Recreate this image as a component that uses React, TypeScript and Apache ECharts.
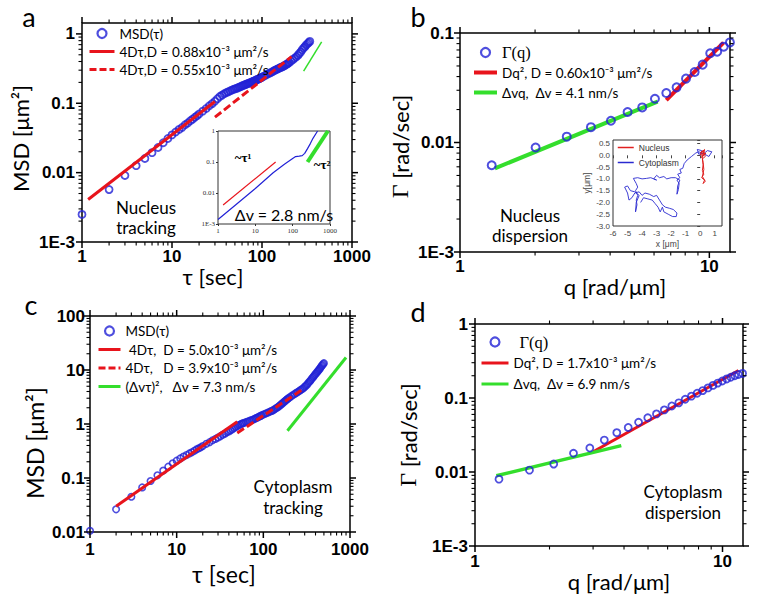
import React, { useEffect, useRef } from 'react';
import * as echarts from 'echarts';

// ---------- data ----------
// panel a: nucleus MSD
const aTau = [1,2,3,4,5,6,7,8,9,10,11,12,13,14,15,16,17,18,19,20,22,24,26,28,30,32,34,36,38,40,42,44,46,48,50,52,54,56,58,60,62,64,66,68,70,72,74,76,78,80,82,84,86,88,90,92,94,96,98,100,105,110,115,120,125,130,135,140,145,150,155,160,165,170,175,180,185,190,195,200,210,220,230,240,250,260,270,280,290,300,310,320,330,340];
const aMsd = [0.0025,0.0057,0.0091,0.0126,0.016,0.0194,0.023,0.027,0.031,0.035,0.0385,0.042,0.045,0.049,0.052,0.056,0.059,0.063,0.066,0.070,0.077,0.084,0.092,0.099,0.107,0.116,0.125,0.131,0.137,0.142,0.146,0.150,0.154,0.158,0.161,0.164,0.167,0.171,0.174,0.178,0.181,0.184,0.187,0.190,0.193,0.196,0.198,0.201,0.204,0.207,0.210,0.213,0.216,0.219,0.222,0.225,0.228,0.231,0.234,0.237,0.246,0.255,0.262,0.27,0.277,0.285,0.292,0.30,0.307,0.313,0.32,0.326,0.332,0.338,0.345,0.352,0.36,0.368,0.376,0.385,0.405,0.425,0.445,0.465,0.49,0.52,0.55,0.59,0.625,0.655,0.69,0.72,0.75,0.78];
const aFit1Tau = [1.17, 30];
const aFit1Msd = [0.0041, 0.106];
const aFit2Tau = [30, 213];
const aFit2Msd = [0.063, 0.47];
const aGreenTau = [290, 460];
const aGreenMsd = [0.29, 0.77];

// panel a inset
const inTau = [1, 3, 10, 30, 60, 100, 120, 150, 180, 210, 250, 300, 350, 465];
const inMsd = [0.0014, 0.0042, 0.014, 0.045, 0.085, 0.13, 0.15, 0.155, 0.16, 0.19, 0.27, 0.4, 0.58, 1.0];
const inRedTau = [1.37, 35];
const inRedMsd = [0.0041, 0.1];
const inGreenTau = [250, 880];
const inGreenMsd = [0.1, 1.0];

// panel b: nucleus dispersion
const bQ = [1.34,2.01,2.68,3.35,4.03,4.70,5.38,6.05,6.72,7.39,8.06,8.73,9.40,10.08,10.75,11.42,12.09];
const bGamma = [0.0062,0.0090,0.0113,0.0138,0.0158,0.019,0.0209,0.0251,0.0283,0.0319,0.0383,0.044,0.0514,0.0653,0.0675,0.075,0.082];
const bRedQ = [6.72, 11.4];
const bRedG = [0.0244, 0.0816];
const bGreenQ = [1.38, 6.2];
const bGreenG = [0.0058, 0.0236];

// panel b inset: trajectories (µm)
const cytoX = [0.0,0.1,-0.2,-0.1,0.3,0.5,0.8,0.6,0.3,-0.1,-0.3,-0.6,-0.9,-1.1,-1.2,-1.4,-1.3,-1.55,-1.4,-1.6,-1.45,-1.5,-1.6,-1.55,-1.4,-1.7,-2.0,-2.3,-2.5,-2.8,-3.0,-3.2,-3.0,-3.4,-3.7,-4.0,-4.3,-4.6,-4.4,-4.3,-4.45,-4.3,-4.4,-4.35,-4.45,-4.4,-4.2,-4.5,-4.8,-5.0,-5.2,-5.0,-4.9,-4.7,-4.5,-4.2,-4.0,-3.8,-3.5,-3.2,-3.0,-2.8,-2.6,-2.4,-2.1,-1.85,-1.6,-1.65,-1.9,-2.2,-2.5,-2.6,-2.75,-2.9,-3.1,-3.3,-3.6,-3.9,-4.1];
const cytoY = [0.0,0.2,0.25,0.05,0.1,0.2,0.15,-0.05,0.05,0.15,0.1,-0.05,-0.2,-0.35,-0.55,-0.6,-0.75,-0.8,-0.95,-1.05,-1.2,-1.45,-1.65,-1.3,-1.05,-0.95,-0.95,-1.0,-0.9,-0.95,-0.85,-1.0,-1.05,-0.95,-0.98,-1.0,-0.95,-0.98,-1.2,-1.35,-1.5,-1.7,-1.9,-2.1,-2.4,-2.0,-1.7,-1.55,-1.5,-1.3,-1.35,-1.6,-1.9,-1.8,-1.6,-1.55,-1.7,-1.6,-1.65,-1.75,-1.7,-1.9,-2.1,-2.2,-2.25,-2.3,-2.45,-2.6,-2.6,-2.5,-2.4,-2.2,-2.4,-2.2,-2.05,-1.9,-1.85,-1.8,-2.0];
const nucX = [0.0,0.15,0.05,0.3,0.2,0.4,0.1,0.25,0.35,0.15,0.2,0.15,0.25,0.1,0.3,0.2,0.35,0.15,0.25,0.2,0.1,0.3,0.0];
const nucY = [0.0,0.2,0.1,0.25,0.0,0.1,-0.1,0.15,-0.05,-0.15,-0.4,-0.65,-0.8,-0.95,-1.05,-1.2,-1.1,-0.9,-0.6,-0.3,0.05,0.2,0.1];

// panel c: cytoplasm MSD
const cTau = [1,2,3,4,5,6,7,8,9,10,11,12,13,14,15,16,17,18,19,20,22,24,26,28,30,32,34,36,38,40,42,44,46,48,50,52,54,56,58,60,63,66,69,72,75,78,81,84,87,90,93,96,100,105,110,115,120,125,130,135,140,145,150,155,160,165,170,175,180,185,190,195,200,210,220,230,240,250,260,270,280,290,300,310,320,330,340,350,360,370,380,390,400,410,420,430,440,450,460,470,480,490,500];
const cMsd = [0.0105,0.0263,0.045,0.067,0.088,0.112,0.137,0.162,0.187,0.209,0.23,0.25,0.267,0.285,0.30,0.32,0.34,0.355,0.37,0.39,0.43,0.46,0.50,0.53,0.56,0.595,0.63,0.66,0.70,0.73,0.765,0.80,0.84,0.88,0.915,0.95,0.98,1.01,1.03,1.05,1.08,1.11,1.14,1.17,1.2,1.23,1.27,1.3,1.34,1.38,1.41,1.45,1.5,1.55,1.6,1.65,1.7,1.75,1.8,1.87,1.95,2.02,2.1,2.2,2.3,2.4,2.5,2.6,2.7,2.8,2.9,3.0,3.1,3.27,3.43,3.6,3.77,3.93,4.1,4.27,4.43,4.6,4.87,5.13,5.4,5.73,6.07,6.4,6.8,7.2,7.6,8.0,8.4,8.8,9.27,9.73,10.2,10.7,11.2,11.8,12.3,12.9,13.4];
const cFit1Tau = [2, 50];
const cFit1Msd = [0.03, 1.1];
const cFit2Tau = [50, 280];
const cFit2Msd = [0.68, 4.3];
const cGreenTau = [190, 900];
const cGreenMsd = [0.75, 17];

// panel d: cytoplasm dispersion
const dQ = [1.25,1.66,2.08,2.50,2.91,3.33,3.74,4.16,4.58,4.99,5.41,5.82,6.24,6.66,7.07,7.49,7.90,8.32,8.74,9.15,9.57,9.98,10.4,10.8,11.2,11.6,12.05];
const dGamma = [0.0080,0.0106,0.0128,0.0179,0.0211,0.027,0.034,0.040,0.047,0.054,0.061,0.069,0.078,0.086,0.096,0.106,0.116,0.126,0.137,0.148,0.159,0.170,0.181,0.191,0.200,0.208,0.215];
const dRedQ = [3.0, 11.6];
const dRedG = [0.0188, 0.235];
const dGreenQ = [1.22, 3.9];
const dGreenG = [0.0089, 0.0227];

// tick positions
const xTicks1000Major = [1, 10, 100, 1000];
const xTicks1000Minor = [2,3,4,5,6,7,8,9,20,30,40,50,60,70,80,90,200,300,400,500,600,700,800,900];
const xTicks12Major = [1, 10];
const xTicks12Minor = [2,3,4,5,6,7,8,9];
const yTicks3Major = [0.001, 0.01, 0.1, 1];
const yTicks3Minor = [0.002,0.003,0.004,0.005,0.006,0.007,0.008,0.009,0.02,0.03,0.04,0.05,0.06,0.07,0.08,0.09,0.2,0.3,0.4,0.5,0.6,0.7,0.8,0.9];
const yTicksBMajor = [0.001, 0.01, 0.1];
const yTicksBMinor = [0.002,0.003,0.004,0.005,0.006,0.007,0.008,0.009,0.02,0.03,0.04,0.05,0.06,0.07,0.08,0.09];
const yTicksCMajor = [0.01, 0.1, 1, 10, 100];
const yTicksCMinor = [0.02,0.03,0.04,0.05,0.06,0.07,0.08,0.09,0.2,0.3,0.4,0.5,0.6,0.7,0.8,0.9,2,3,4,5,6,7,8,9,20,30,40,50,60,70,80,90];

// legend texts
const MSD = 'MSD(τ)';
const GQ = 'Γ(q)';
const A1 = '4Dτ,D = 0.88x10⁻³ μm²/s';
const A2 = '4Dτ,D = 0.55x10⁻³ μm²/s';
const B1 = 'Dq², D = 0.60x10⁻³ μm²/s';
const B2 = 'Δvq,  Δv = 4.1 nm/s';
const C1 = ' 4Dτ,  D = 5.0x10⁻³ μm²/s';
const C2 = '4Dτ,   D = 3.9x10⁻³ μm²/s';
const C3 = '(Δvτ)²,   Δv = 7.3 nm/s';
const D1 = 'Dq², D = 1.7x10⁻³ μm²/s';
const D2 = 'Δvq,  Δv = 6.9 nm/s';

// ---------- styling ----------
const BLUE = '#2222d6';
const RED = '#e8141c';
const GREEN = '#34de2c';
const SANS = 'Lato, "Noto Sans", sans-serif';
const BOLD = '"Liberation Sans", Arial, sans-serif';
const SERIF = '"Liberation Serif", "Times New Roman", serif';

const pairs = (xs: number[], ys: number[]) => xs.map((x, i) => [x, ys[i]]);

const decadeLabel = (v: number) => {
  const e = Math.log10(v);
  const r = Math.round(e);
  if (Math.abs(e - r) > 1e-6) return '';
  if (r === -3) return '1E-3';
  if (r < 0) return Math.pow(10, r).toFixed(-r);
  return String(Math.pow(10, r));
};

type Panel = { xr: number[]; yr: number[]; xMaj: number[]; xMin: number[]; yMaj: number[]; yMin: number[] };
const panels: Panel[] = [
  { xr: [1, 1000], yr: [0.001, 1.436], xMaj: xTicks1000Major, xMin: xTicks1000Minor, yMaj: yTicks3Major, yMin: yTicks3Minor },
  { xr: [1, 12.1], yr: [0.001, 0.1], xMaj: xTicks12Major, xMin: xTicks12Minor, yMaj: yTicksBMajor, yMin: yTicksBMinor },
  { xr: [1, 1000], yr: [0.01, 100], xMaj: xTicks1000Major, xMin: xTicks1000Minor, yMaj: yTicksCMajor, yMin: yTicksCMinor },
  { xr: [1, 12.1], yr: [0.001, 1], xMaj: xTicks12Major, xMin: xTicks12Minor, yMaj: yTicks3Major, yMin: yTicks3Minor },
];

function tickItems(p: Panel) {
  const out: number[][] = [];
  const inX = (v: number) => v >= p.xr[0] && v <= p.xr[1];
  const inY = (v: number) => v >= p.yr[0] && v <= p.yr[1];
  p.xMaj.filter(inX).forEach((v) => { out.push([v, p.yr[0], 0, 0]); out.push([v, p.yr[1], 0, 1]); });
  p.xMin.filter(inX).forEach((v) => { out.push([v, p.yr[0], 1, 0]); out.push([v, p.yr[1], 1, 1]); });
  p.yMaj.filter(inY).forEach((v) => { out.push([p.xr[0], v, 0, 2]); out.push([p.xr[1], v, 0, 3]); });
  p.yMin.filter(inY).forEach((v) => { out.push([p.xr[0], v, 1, 2]); out.push([p.xr[1], v, 1, 3]); });
  return out;
}

const tickSeries = (i: number) => ({
  type: 'custom',
  name: '_ticks' + i,
  xAxisIndex: i,
  yAxisIndex: i,
  clip: false,
  silent: true,
  z: 6,
  data: tickItems(panels[i]),
  renderItem: (_params: any, api: any) => {
    const pt = api.coord([api.value(0), api.value(1)]);
    const major = api.value(2) === 0;
    const side = api.value(3);
    const len = major ? 6 : 3.5;
    let x2 = pt[0];
    let y2 = pt[1];
    if (side === 0) y2 += len;
    else if (side === 1) y2 -= len;
    else if (side === 2) x2 -= len;
    else x2 += len;
    return {
      type: 'line',
      shape: { x1: pt[0], y1: pt[1], x2, y2 },
      style: { stroke: '#000', lineWidth: major ? 1.5 : 1.1 },
    };
  },
});

const serifRich = { g: { fontFamily: SERIF, fontSize: 24, color: '#000' } };

function mainX(i: number, name: string, nameGap: number, fontSize: number, shift: number, margin: number) {
  return {
    type: 'log', logBase: 10, gridIndex: i, min: panels[i].xr[0], max: panels[i].xr[1],
    axisLine: { show: false }, axisTick: { show: false }, splitLine: { show: false },
    axisLabel: { margin, fontFamily: BOLD, fontWeight: 'bold', fontSize: 17, color: '#000', formatter: decadeLabel },
    name, nameLocation: 'middle', nameGap,
    nameTextStyle: { fontFamily: SANS, fontSize, color: '#000', padding: shift >= 0 ? [0, 0, 0, shift * 2] : [0, -shift * 2, 0, 0] },
  };
}
function mainY(i: number, name: string, nameGap: number, fontSize: number, shiftDown: number, margin: number) {
  return {
    type: 'log', logBase: 10, gridIndex: i, min: panels[i].yr[0], max: panels[i].yr[1],
    axisLine: { show: false }, axisTick: { show: false }, splitLine: { show: false },
    axisLabel: { margin, fontFamily: BOLD, fontWeight: 'bold', fontSize: 17, color: '#000', formatter: decadeLabel },
    name, nameLocation: 'middle', nameGap, nameRotate: 90,
    nameTextStyle: {
      fontFamily: SANS, fontSize, color: '#000', rich: serifRich,
      padding: shiftDown >= 0 ? [0, shiftDown * 2, 0, 0] : [0, 0, 0, -shiftDown * 2],
    },
  };
}

const scatter = (name: string, xi: number, data: number[][], size: number, bw: number) => ({
  type: 'scatter', name, xAxisIndex: xi, yAxisIndex: xi, data, clip: false,
  symbol: 'circle', symbolSize: size,
  itemStyle: { color: 'rgba(0,0,0,0)', borderColor: BLUE, borderWidth: bw },
  z: 3,
});
const fitLine = (name: string, xi: number, data: number[][], color: string, width: number, dashed = false, z = 4) => ({
  type: 'line', name, xAxisIndex: xi, yAxisIndex: xi, data, symbol: 'none', showSymbol: false,
  color, lineStyle: { color, width, type: dashed ? [8, 3.5] : 'solid' }, z,
});

const hiddenSymbol = { color: 'rgba(0,0,0,0)', borderWidth: 0, opacity: 0 };
const circleItem = (name: string) => ({
  name, icon: 'circle', itemStyle: { color: 'rgba(0,0,0,0)', borderColor: BLUE, borderWidth: 2.2 },
});
const lineItem = (name: string, width: number, dashed = false) => ({
  name, itemStyle: hiddenSymbol, lineStyle: { width, type: dashed ? [7, 3] : 'solid' },
});

const legendBase = (left: number, top: number, itemWidth: number, fontSize: number, lineHeight: number, itemGap: number, data: any[], gPad = 0) => ({
  left, top, orient: 'vertical', itemWidth, itemHeight: 9, itemGap, padding: 0, selectedMode: false,
  textStyle: {
    fontFamily: SANS, fontSize, color: '#000', lineHeight,
    rich: { g: { fontFamily: SERIF, fontSize: fontSize + 3, color: '#000', padding: [0, 0, 0, gPad] } },
  },
  formatter: (n: string) => (n === GQ ? '{g|' + n + '}' : n),
  data,
});

const gtext = (x: number, y: number, text: string, fontSize: number, fontFamily = SANS, extra: any = {}) => ({
  type: 'text', x, y, z: 100,
  style: { text, fontSize, fontFamily, fill: '#000', align: 'center', verticalAlign: 'middle', ...extra },
});

const option: any = {
  animation: false,
  backgroundColor: '#fff',
  grid: [
    { left: 82, top: 23, width: 270, height: 219, show: true, borderColor: '#000', borderWidth: 1.5, backgroundColor: 'transparent' },
    { left: 460, top: 33, width: 270, height: 219, show: true, borderColor: '#000', borderWidth: 1.5, backgroundColor: 'transparent' },
    { left: 90, top: 316, width: 260, height: 216, show: true, borderColor: '#000', borderWidth: 1.5, backgroundColor: 'transparent' },
    { left: 475, top: 324, width: 268, height: 222, show: true, borderColor: '#000', borderWidth: 1.5, backgroundColor: 'transparent' },
    { left: 218, top: 131, width: 112, height: 93, show: true, borderColor: '#333', borderWidth: 1, backgroundColor: '#fff' },
    { left: 613, top: 140, width: 109, height: 86, show: true, borderColor: '#333', borderWidth: 1, backgroundColor: '#fff' },
  ],
  xAxis: [
    mainX(0, 'τ [sec]', 22, 22, -4, 6),
    mainX(1, 'q [rad/μm]', 15, 22, 20, 6),
    mainX(2, 'τ [sec]', 30, 23, 4, 9),
    mainX(3, 'q [rad/μm]', 18, 22, 10, 7),
    {
      type: 'log', logBase: 10, gridIndex: 4, min: 1, max: 1000,
      axisLine: { show: false }, splitLine: { show: false },
      axisTick: { length: 2, lineStyle: { color: '#333' } },
      axisLabel: { margin: 3, fontSize: 7, fontFamily: SERIF, color: '#333', formatter: decadeLabel },
    },
    {
      type: 'value', gridIndex: 5, min: -6, max: 1.5, interval: 1,
      axisLine: { show: false }, splitLine: { show: false },
      axisTick: { length: 3, lineStyle: { color: '#444' } },
      axisLabel: {
        margin: 3, fontSize: 8, fontFamily: BOLD, color: '#444',
        formatter: (v: number) => (Math.abs(v - Math.round(v)) > 1e-6 ? '' : String(Math.round(v))),
      },
      name: 'x [μm]', nameLocation: 'middle', nameGap: 13,
      nameTextStyle: { fontSize: 8.5, fontFamily: BOLD, color: '#444' },
    },
  ],
  yAxis: [
    mainY(0, 'MSD [μm²]', 51, 22, 6, 7),
    mainY(1, '{g|Γ} [rad/sec]', 48, 22, 4, 6),
    mainY(2, 'MSD [μm²]', 44, 23, 19, 5),
    mainY(3, '{g|Γ} [rad/sec]', 55, 22, 0, 7),
    {
      type: 'log', logBase: 10, gridIndex: 4, min: 0.001, max: 1,
      axisLine: { show: false }, splitLine: { show: false },
      axisTick: { length: 2, lineStyle: { color: '#333' } },
      axisLabel: { margin: 3, fontSize: 7, fontFamily: SERIF, color: '#333', formatter: decadeLabel },
    },
    {
      type: 'value', gridIndex: 5, min: -3, max: 0.65, interval: 0.5,
      axisLine: { show: false }, splitLine: { show: false },
      axisTick: { length: 3, lineStyle: { color: '#444' } },
      axisLabel: {
        margin: 3, fontSize: 8, fontFamily: BOLD, color: '#444',
        formatter: (v: number) => (Math.abs(v * 2 - Math.round(v * 2)) > 1e-6 ? '' : v.toFixed(1)),
      },
      name: 'y[μm]', nameLocation: 'middle', nameGap: 22, nameRotate: 90,
      nameTextStyle: { fontSize: 8.5, fontFamily: BOLD, color: '#444' },
    },
  ],
  legend: [
    legendBase(88, 25, 25, 13.5, 17, 1, [circleItem(MSD), lineItem(A1, 3), lineItem(A2, 3, true)]),
    legendBase(472, 43, 23, 13.5, 19, 1, [circleItem(GQ), lineItem(B1, 4), lineItem(B2, 4)]),
    legendBase(97, 322, 22, 13.5, 18, 0.5, [circleItem(MSD), lineItem(C1, 3), lineItem(C2, 3, true), lineItem(C3, 3)]),
    legendBase(480, 332, 27, 13.5, 20, 1, [circleItem(GQ), lineItem(D1, 3), lineItem(D2, 3)], 6),
    {
      left: 617, top: 142, orient: 'vertical', itemWidth: 16, itemHeight: 6, itemGap: 4, padding: 0, selectedMode: false,
      textStyle: { fontFamily: BOLD, fontSize: 8.5, color: '#333', lineHeight: 11 },
      data: [
        { name: 'Nucleus', itemStyle: hiddenSymbol, lineStyle: { width: 1.5 } },
        { name: 'Cytoplasm', itemStyle: hiddenSymbol, lineStyle: { width: 1.5 } },
      ],
    },
  ],
  series: [
    // panel a
    scatter(MSD, 0, pairs(aTau, aMsd), 7, 1.8),
    fitLine(A1, 0, pairs(aFit1Tau, aFit1Msd), RED, 3),
    fitLine(A2, 0, pairs(aFit2Tau, aFit2Msd), RED, 3, true),
    fitLine('_aGreen', 0, pairs(aGreenTau, aGreenMsd), GREEN, 1.5),
    tickSeries(0),
    // panel b
    scatter(GQ, 1, pairs(bQ, bGamma), 8, 2),
    fitLine(B1, 1, pairs(bRedQ, bRedG), RED, 4, false, 2),
    fitLine(B2, 1, pairs(bGreenQ, bGreenG), GREEN, 4, false, 2),
    tickSeries(1),
    // panel c
    scatter(MSD, 2, pairs(cTau, cMsd), 6.5, 1.6),
    fitLine(C1, 2, pairs(cFit1Tau, cFit1Msd), RED, 3),
    fitLine(C2, 2, pairs(cFit2Tau, cFit2Msd), RED, 3, true),
    fitLine(C3, 2, pairs(cGreenTau, cGreenMsd), GREEN, 3),
    tickSeries(2),
    // panel d
    scatter(GQ, 3, pairs(dQ, dGamma), 7, 1.8),
    fitLine(D1, 3, pairs(dRedQ, dRedG), RED, 3, false, 2),
    fitLine(D2, 3, pairs(dGreenQ, dGreenG), GREEN, 3.5, false, 2),
    tickSeries(3),
    // inset a
    fitLine('_inBlue', 4, pairs(inTau, inMsd), BLUE, 1.2),
    fitLine('_inRed', 4, pairs(inRedTau, inRedMsd), RED, 1.2),
    fitLine('_inGreen', 4, pairs(inGreenTau, inGreenMsd), GREEN, 4),
    // inset b
    fitLine('Cytoplasm', 5, pairs(cytoX, cytoY), '#2a2ad0', 0.9),
    fitLine('Nucleus', 5, pairs(nucX, nucY), '#e02020', 1),
  ],
  graphic: [
    gtext(29, 16, 'a', 27),
    gtext(418, 16, 'b', 27),
    gtext(31, 304, 'c', 27),
    gtext(418, 311, 'd', 27),
    gtext(146, 217, 'Nucleus\ntracking', 17, SANS, { lineHeight: 20 }),
    gtext(530, 225, 'Nucleus\ndispersion', 17, SANS, { lineHeight: 20 }),
    gtext(293, 497, 'Cytoplasm\ntracking', 17, SANS, { lineHeight: 21 }),
    gtext(683, 502, 'Cytoplasm\ndispersion', 17, SANS, { lineHeight: 21 }),
    gtext(243, 157, '~τ¹', 13, SERIF, { fontWeight: 'bold' }),
    gtext(322, 164, '~τ²', 13, SERIF, { fontWeight: 'bold' }),
    gtext(284, 214, 'Δv = 2.8 nm/s', 16, SANS),
  ],
};

export default function App() {
  const ref = useRef<HTMLDivElement>(null);
  useEffect(() => {
    const chart = echarts.init(ref.current as HTMLDivElement, null, { renderer: 'svg', width: 760, height: 595 });
    chart.setOption(option);
    return () => chart.dispose();
  }, []);
  return (
    <div
      ref={ref}
      style={{ position: 'absolute', left: 0, top: 0, width: 760, height: 595, background: '#fff' }}
    />
  );
}
